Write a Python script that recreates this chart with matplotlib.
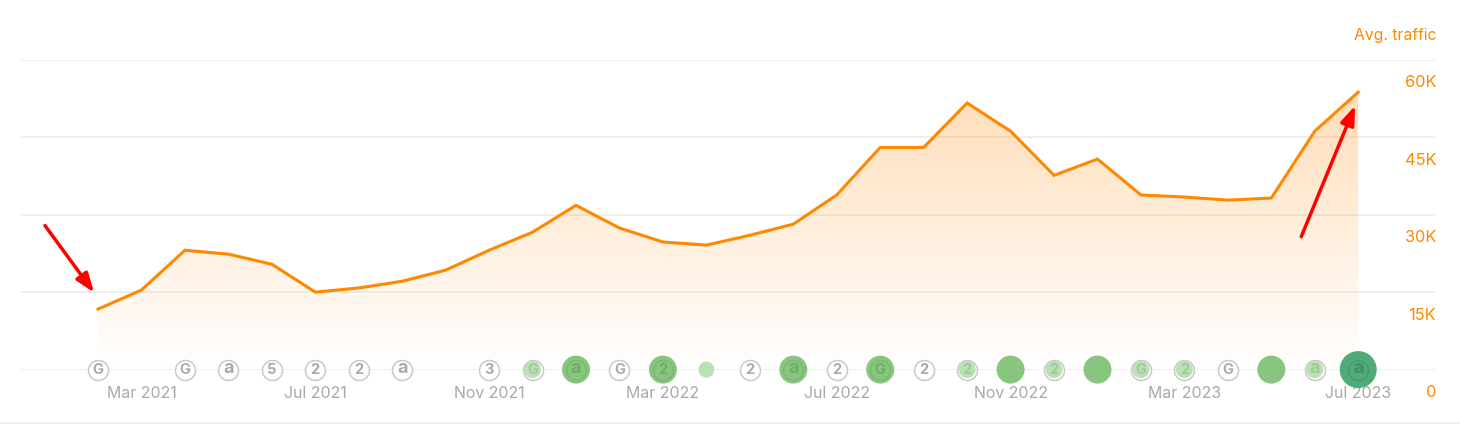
import matplotlib
matplotlib.use("Agg")
import matplotlib.pyplot as plt
import numpy as np
from matplotlib.colors import to_rgb
from matplotlib.lines import Line2D

plt.rcParams['font.family'] = ['Inter', 'DejaVu Sans']

traffic = [11700, 15400, 23100, 22350, 20400, 15000, 15800, 17100, 19250, 23100,
           26600, 31800, 27400, 24700, 24100, 26000, 28150, 33800, 43000, 43000,
           51600, 46150, 37600, 40750, 33800, 33400, 32800, 33200, 46150, 53700]
months = list(range(len(traffic)))
x_ticks = [1, 5, 9, 13, 17, 21, 25, 29]
x_labels = ['Mar 2021', 'Jul 2021', 'Nov 2021', 'Mar 2022', 'Jul 2022', 'Nov 2022',
            'Mar 2023', 'Jul 2023']
y_ticks = [0, 15000, 30000, 45000, 60000]
y_labels = ['0', '15K', '30K', '45K', '60K']

# month index, glyph, kind
plain_marks = [(0, 'G'), (2, 'G'), (3, 'a'), (4, '5'), (5, '2'), (6, '2'), (7, 'a'),
               (9, '3'), (12, 'G'), (15, '2'), (17, '2'), (19, '2'), (26, 'G')]
light_marks = [(10, 'G'), (20, '2'), (22, '2'), (24, 'G'), (25, '2'), (28, 'a')]
big_marks = [(11, 'a'), (13, '2'), (16, 'a'), (18, 'G'), (21, ''), (23, ''), (27, '')]
small_marks = [14]
top_mark = (29, 'a')

ORANGE = '#ff8800'
GREY = '#a9a9a9'


def px_size(diameter):
    """Scatter size for a circle diameter given in pixels."""
    return (diameter * 0.72) ** 2


def draw_circle(ax, x, size, color, edge='none', lw=0, z=5):
    ax.scatter([x], [0], s=px_size(size), c=color, edgecolors=edge, linewidths=lw,
               clip_on=False, zorder=z)


def draw_glyph(ax, x, glyph, color):
    size = 13 if glyph == 'a' else 10.5
    offset = 0.6 if glyph == 'a' else -0.3
    ax.annotate(glyph, (x, 0), xytext=(0, offset), textcoords='offset points', ha='center',
                va='center', fontsize=size, fontweight='bold', color=color, zorder=8)


fig = plt.figure(figsize=(14.6, 4.24), dpi=100)
ax = fig.add_axes([20 / 1460, (424 - 369.6) / 424, 1416 / 1460, 310 / 424])
ax.set_xlim(-1.795, 30.79)
ax.set_ylim(0, 60000)

for s in ax.spines.values():
    s.set_visible(False)
ax.set_yticks(y_ticks)
ax.yaxis.grid(True, color='#efefef', lw=1.4)
ax.set_axisbelow(True)
ax.set_xticks(x_ticks)
ax.set_xticklabels(x_labels, fontsize=11.4, color=GREY)
ax.tick_params(axis='x', length=0, pad=11.5)
ax.yaxis.tick_right()
ax.set_yticklabels([])
ax.tick_params(axis='y', length=0)
for val, lab in zip(y_ticks, y_labels):
    ax.annotate(lab, (1, val), xycoords=('axes fraction', 'data'), xytext=(0, -16.7),
                textcoords='offset points', ha='right', va='center', fontsize=11.8,
                color=ORANGE, annotation_clip=False)
ax.annotate('Avg. traffic', (1, 60000), xycoords=('axes fraction', 'data'), xytext=(0.3, 17.3),
            textcoords='offset points', ha='right', va='center', fontsize=11.3, color=ORANGE,
            annotation_clip=False)

# translucent gradient under the line, gridlines show through it
poly = ax.fill_between(months, traffic, 0, color='none')
grad = np.zeros((256, 1, 4))
grad[..., :3] = to_rgb(ORANGE)
grad[:, 0, 3] = np.linspace(0.28, 0, 256)
im = ax.imshow(grad, extent=[0, 29, 0, max(traffic)], aspect='auto', zorder=2)
im.set_clip_path(poly.get_paths()[0], transform=ax.transData)
ax.set_xlim(-1.795, 30.79)
ax.set_ylim(0, 60000)
ax.plot(months, traffic, color=ORANGE, lw=2.2, zorder=3, solid_joinstyle='miter')

for x, g in plain_marks:
    draw_circle(ax, x, 20, 'white', edge='#c9c9c9', lw=1.1)
    draw_glyph(ax, x, g, '#a9a9a9')
for x, g in light_marks:
    draw_circle(ax, x, 20, 'white', edge='#c9c9c9', lw=1.1)
    draw_circle(ax, x, 17, '#bce0b6', z=6)
    draw_glyph(ax, x, g, '#9ccb95')
for x, g in big_marks:
    draw_circle(ax, x, 28, '#88c67f')
    if g:
        draw_circle(ax, x, 20, '#88c67f', edge='#79b971', lw=1, z=6)
        draw_glyph(ax, x, g, '#6cae64')
for x in small_marks:
    draw_circle(ax, x, 16, '#bce0b6')
draw_circle(ax, top_mark[0], 37, '#50ab78')
draw_circle(ax, top_mark[0], 20, '#50ab78', edge='#439b6a', lw=1, z=6)
draw_glyph(ax, top_mark[0], top_mark[1], '#3b9160')

# red arrows pointing at the first and last month
for tip, start in [((-0.09, 14900), (-1.22, 27870)), ((28.93, 51100), (27.69, 25740))]:
    ax.annotate('', xy=tip, xytext=start, zorder=9,
                arrowprops=dict(arrowstyle='-|>,head_length=1.15,head_width=0.42', color='#ff0000',
                                lw=2.5, shrinkA=0, shrinkB=0))

fig.add_artist(Line2D([0, 1], [1.5 / 424, 1.5 / 424], color='#efefef', lw=1.3))
fig.savefig('out.png', dpi=100)
